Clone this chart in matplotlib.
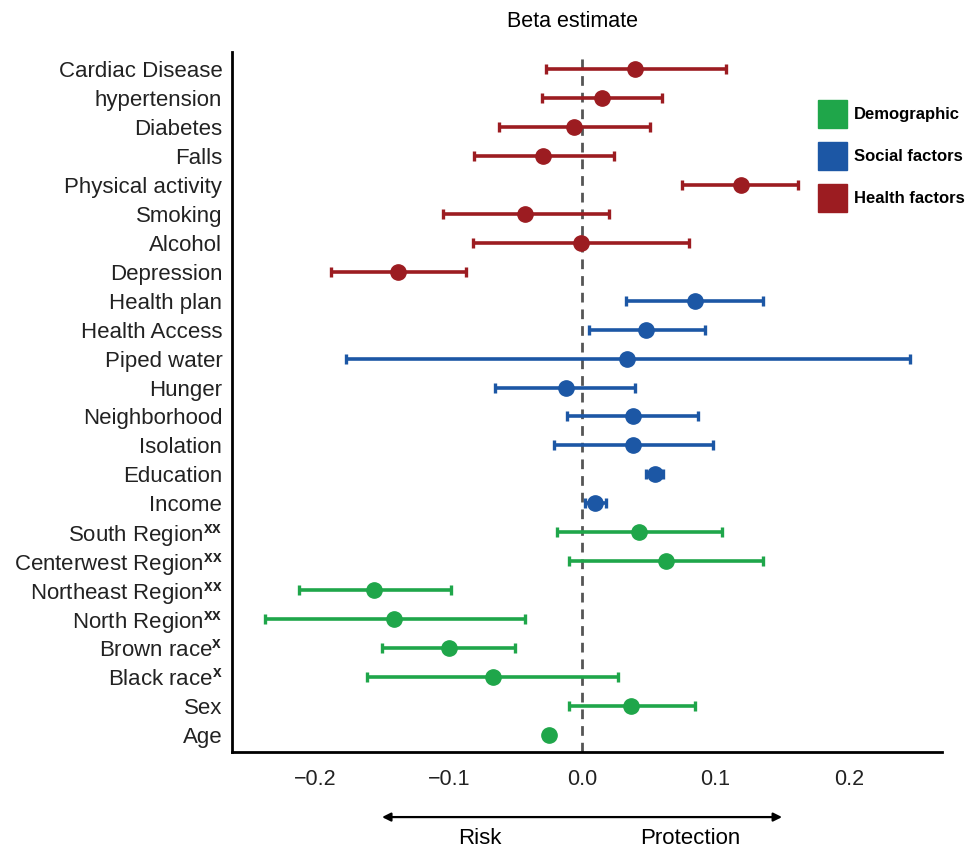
import matplotlib
matplotlib.use("Agg")
import numpy as np
import matplotlib.pyplot as plt
from matplotlib.patches import Patch

plt.rcParams['font.family'] = ['Liberation Sans', 'DejaVu Sans']
plt.rcParams['mathtext.fontset'] = 'custom'
plt.rcParams['mathtext.rm'] = 'Liberation Sans'
plt.rcParams['mathtext.bf'] = 'Liberation Sans:bold'

# rows listed top to bottom
LABELS = ["Cardiac Disease", "hypertension", "Diabetes", "Falls", "Physical activity",
          "Smoking", "Alcohol", "Depression",
          "Health plan", "Health Access", "Piped water", "Hunger", "Neighborhood",
          "Isolation", "Education", "Income",
          r"South Region$^{\mathbf{xx}}$", r"Centerwest Region$^{\mathbf{xx}}$",
          r"Northeast Region$^{\mathbf{xx}}$", r"North Region$^{\mathbf{xx}}$",
          r"Brown race$^{\mathbf{x}}$", r"Black race$^{\mathbf{x}}$", "Sex", "Age"]
BETA = [0.040, 0.015, -0.006, -0.029, 0.119, -0.043, -0.001, -0.138,
        0.085, 0.048, 0.034, -0.012, 0.038, 0.038, 0.055, 0.010,
        0.043, 0.063, -0.156, -0.141, -0.100, -0.067, 0.037, -0.025]
CI_LOW = [-0.027, -0.030, -0.062, -0.081, 0.075, -0.104, -0.082, -0.188,
          0.033, 0.005, -0.177, -0.065, -0.011, -0.021, 0.048, 0.002,
          -0.019, -0.010, -0.212, -0.238, -0.150, -0.161, -0.010, -0.025]
CI_HIGH = [0.108, 0.060, 0.051, 0.024, 0.162, 0.020, 0.080, -0.087,
           0.136, 0.092, 0.246, 0.040, 0.087, 0.098, 0.061, 0.018,
           0.105, 0.136, -0.098, -0.043, -0.050, 0.027, 0.085, -0.025]
GROUP = ["Health factors"] * 8 + ["Social factors"] * 8 + ["Demographic"] * 8

COLORS = {"Demographic": "#1fa64a", "Social factors": "#1c57a5", "Health factors": "#9c1c21"}
LEGEND_ORDER = ["Demographic", "Social factors", "Health factors"]

fig = plt.figure(figsize=(9.68, 8.52), dpi=100)
ax = fig.add_axes([0.2397, 0.1174, 0.7335, 0.8216])

ypos = np.arange(len(LABELS))[::-1]
for i in range(len(LABELS)):
    c = COLORS[GROUP[i]]
    ax.errorbar(BETA[i], ypos[i],
                xerr=[[BETA[i] - CI_LOW[i]], [CI_HIGH[i] - BETA[i]]],
                fmt='o', color=c, ms=11, elinewidth=2.6, capsize=3.5, capthick=2.4, zorder=3)

ax.axvline(0, color='#555555', ls=(0, (3.5, 2.5)), lw=2, zorder=1)

ax.set_xlim(-0.2625, 0.27)
ax.set_ylim(-0.6, len(LABELS) - 0.4)
ax.set_yticks(ypos)
ax.set_yticklabels(LABELS, fontsize=16, color='#222222')
ax.set_xticks([-0.2, -0.1, 0.0, 0.1, 0.2])
ax.set_xticklabels(["\u22120.2", "\u22120.1", "0.0", "0.1", "0.2"], fontsize=15.5, color='#222222')
ax.tick_params(axis='both', length=0)
ax.tick_params(axis='x', pad=12)
ax.tick_params(axis='y', pad=7)
for s in ['top', 'right']:
    ax.spines[s].set_visible(False)
for s in ['left', 'bottom']:
    ax.spines[s].set_linewidth(2)
    ax.spines[s].set_color('black')

ax.set_title("Beta estimate", fontsize=15.5, x=0.479, pad=18)

# risk / protection arrow under the axis
trans = ax.get_xaxis_transform()
ax.annotate('', xy=(-0.15, -0.093), xytext=(0.15, -0.093), xycoords=trans,
            textcoords=trans, annotation_clip=False,
            arrowprops=dict(arrowstyle='<|-|>,head_length=0.5,head_width=0.25',
                            color='black', lw=1.6, shrinkA=0, shrinkB=0))
ax.text(-0.077, -0.123, "Risk", transform=trans, ha='center', va='center', fontsize=16)
ax.text(0.081, -0.123, "Protection", transform=trans, ha='center', va='center', fontsize=16)

handles = [Patch(facecolor=COLORS[g], edgecolor=COLORS[g], label=g) for g in LEGEND_ORDER]
leg = fig.legend(handles=handles, loc='upper left', bbox_to_anchor=(0.845, 0.8826),
                 frameon=False, handlelength=1.75, handleheight=2.2, labelspacing=0.85,
                 handletextpad=0.4, borderpad=0, borderaxespad=0,
                 prop={'weight': 'bold', 'size': 12})

fig.savefig("out.png", dpi=100)
